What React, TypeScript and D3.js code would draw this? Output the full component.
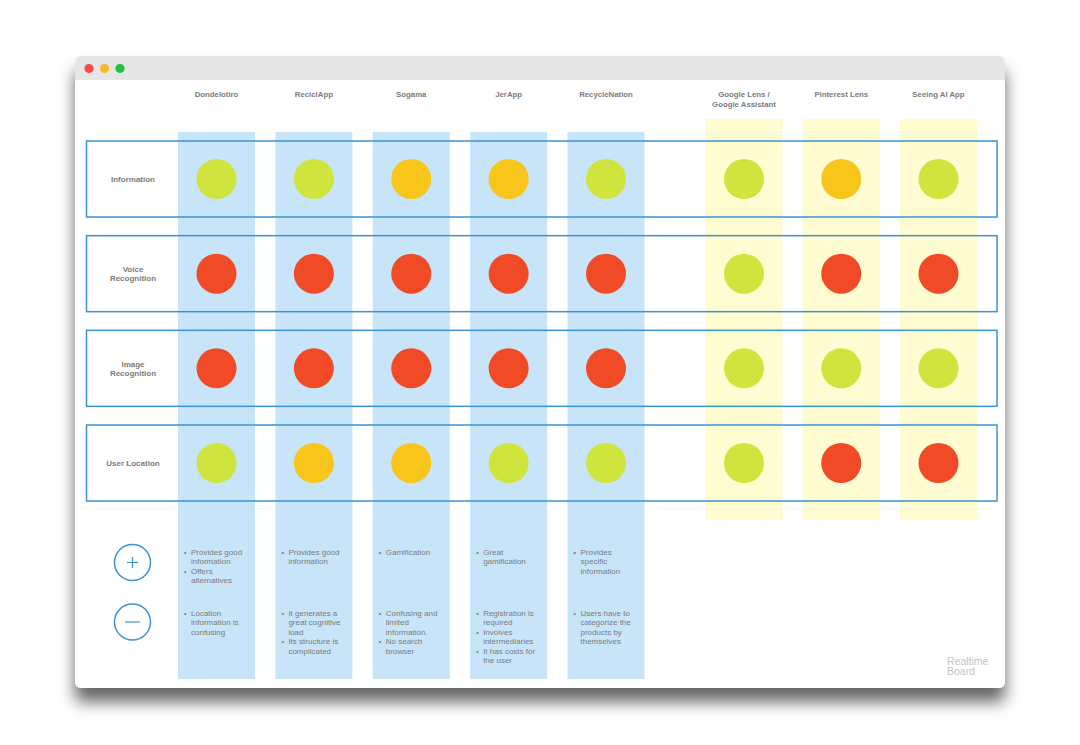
import React from "react";
import * as d3 from "d3";

const recyclingApps = ["Dondelotiro", "ReciclApp", "Sogama", "JerApp", "RecycleNation"];
const visionApps = [["Google Lens /", "Google Assistant"], ["Pinterest Lens"], ["Seeing AI App"]];
const visionKeys = ["Google Lens", "Pinterest Lens", "Seeing AI App"];
const features = [["Information"], ["Voice", "Recognition"], ["Image", "Recognition"], ["User Location"]];

// rating: g = good, m = medium, b = bad
const recyclingRatings = [
  ["g", "g", "m", "m", "g"],
  ["b", "b", "b", "b", "b"],
  ["b", "b", "b", "b", "b"],
  ["g", "m", "m", "g", "g"],
];
const visionRatings = [
  ["g", "m", "g"],
  ["g", "b", "b"],
  ["g", "g", "g"],
  ["g", "b", "b"],
];

const pros = [
  [["Provides good", "information"], ["Offers", "alternatives"]],
  [["Provides good", "information"]],
  [["Gamification"]],
  [["Great", "gamification"]],
  [["Provides", "specific", "information"]],
];
const cons = [
  [["Location", "information is", "confusing"]],
  [["It generates a", "great cognitive", "load"], ["Its structure is", "complicated"]],
  [["Confusing and", "limited", "information."], ["No search", "browser"]],
  [["Registration is", "required"], ["Involves", "intermediaries"], ["It has costs for", "the user"]],
  [["Users have to", "categorize the", "products by", "themselves"]],
];

const ratingColor = d3
  .scaleOrdinal<string, string>()
  .domain(["g", "m", "b"])
  .range(["#d0e43e", "#f8c51b", "#f04a26"]);

const FONT = "'Liberation Sans', Arial, sans-serif";
const TXT = "#7c7c7c";
const BLUE = "#3d92d2";

export default function App() {
  const W = 1080;
  const H = 745;
  const xA = d3.scalePoint<string>().domain(recyclingApps).range([216.5, 606]);
  const xB = d3.scalePoint<string>().domain(visionKeys).range([744, 938.5]);
  const yRow = d3
    .scalePoint<string>()
    .domain(features.map((f) => f.join(" ")))
    .range([179, 463]);
  const colW = 77;
  const r = 20;
  const lineH = 9.4;

  const bulletBlock = (items: string[][], x: number, y0: number) => {
    let y = y0;
    const out: React.ReactNode[] = [];
    items.forEach((lines, bi) => {
      out.push(
        <text key={"b" + bi + "-" + y} x={x + 6} y={y} fontSize={7} fill={TXT}>
          •
        </text>
      );
      lines.forEach((ln, li) => {
        out.push(
          <text key={"t" + bi + "-" + li} x={x + 13} y={y} fontSize={8} fill={TXT}>
            {ln}
          </text>
        );
        y += lineH;
      });
    });
    return out;
  };

  return (
    <div style={{ position: "absolute", left: 0, top: 0 }}>
      <svg width={W} height={H} style={{ display: "block", fontFamily: FONT }}>
        <defs>
          <filter id="shadow" x="-10%" y="-10%" width="120%" height="130%">
            <feDropShadow dx="0" dy="14" stdDeviation="8" floodColor="#000" floodOpacity="0.6" />
          </filter>
          <clipPath id="win">
            <rect x={75} y={56} width={930} height={632} rx={6} />
          </clipPath>
        </defs>
        <rect x={0} y={0} width={W} height={H} fill="#ffffff" />
        {/* window */}
        <rect x={75} y={56} width={930} height={632} rx={6} fill="#ffffff" filter="url(#shadow)" />
        <g clipPath="url(#win)">
          <rect x={75} y={56} width={930} height={24} fill="#e6e6e6" />
        </g>
        {["#f24c4b", "#f6b72b", "#27c13d"].map((c, i) => (
          <circle key={c} cx={89 + i * 15.5} cy={68.5} r={4.6} fill={c} />
        ))}

        {/* column backgrounds */}
        {recyclingApps.map((a) => (
          <rect key={a} x={(xA(a) as number) - colW / 2} y={132} width={colW} height={547} fill="#c8e4f8" />
        ))}
        {visionKeys.map((a) => (
          <rect key={a} x={(xB(a) as number) - colW / 2} y={119} width={colW} height={401} fill="#fefcd0" />
        ))}

        {/* headers */}
        {recyclingApps.map((a) => (
          <text key={a} x={xA(a)} y={97} textAnchor="middle" fontSize={7.8} fontWeight="bold" fill={TXT}>
            {a}
          </text>
        ))}
        {visionApps.map((lines, i) => (
          <text key={i} x={xB(visionKeys[i])} y={97} textAnchor="middle" fontSize={7.8} fontWeight="bold" fill={TXT}>
            {lines.map((l, j) => (
              <tspan key={j} x={xB(visionKeys[i])} dy={j === 0 ? 0 : 9.5}>
                {l}
              </tspan>
            ))}
          </text>
        ))}

        {/* rows */}
        {features.map((f, ri) => {
          const cy = yRow(f.join(" ")) as number;
          return (
            <g key={ri}>
              <rect x={86.5} y={cy - 38} width={910.5} height={76} fill="none" stroke={BLUE} strokeWidth={1.5} />
              <text
                x={133}
                y={cy + 3 - ((f.length - 1) * 9.5) / 2}
                textAnchor="middle"
                fontSize={8}
                fontWeight="bold"
                fill={TXT}
              >
                {f.map((l, j) => (
                  <tspan key={j} x={133} dy={j === 0 ? 0 : 9.5}>
                    {l}
                  </tspan>
                ))}
              </text>
              {recyclingApps.map((a, ci) => (
                <circle key={a} cx={xA(a)} cy={cy} r={r} fill={ratingColor(recyclingRatings[ri][ci])} />
              ))}
              {visionKeys.map((a, ci) => (
                <circle key={a} cx={xB(a)} cy={cy} r={r} fill={ratingColor(visionRatings[ri][ci])} />
              ))}
            </g>
          );
        })}

        {/* plus / minus */}
        <circle cx={132.5} cy={562.5} r={18} fill="none" stroke={BLUE} strokeWidth={1.5} />
        <line x1={127} x2={138} y1={562.5} y2={562.5} stroke={BLUE} strokeWidth={1.2} />
        <line x1={132.5} x2={132.5} y1={557} y2={568} stroke={BLUE} strokeWidth={1.2} />
        <circle cx={132.5} cy={622} r={18} fill="none" stroke={BLUE} strokeWidth={1.5} />
        <line x1={125} x2={140} y1={622} y2={622} stroke={BLUE} strokeWidth={1.2} />

        {/* notes */}
        {recyclingApps.map((a, i) => {
          const x = (xA(a) as number) - colW / 2;
          return (
            <g key={a}>
              {bulletBlock(pros[i], x, 555)}
              {bulletBlock(cons[i], x, 616)}
            </g>
          );
        })}

        {/* logo */}
        <text x={947} y={665} fontSize={10.5} fill="#c4c4c4">
          Realtime
        </text>
        <text x={947} y={675} fontSize={10.5} fill="#c4c4c4">
          Board
        </text>
      </svg>
    </div>
  );
}
